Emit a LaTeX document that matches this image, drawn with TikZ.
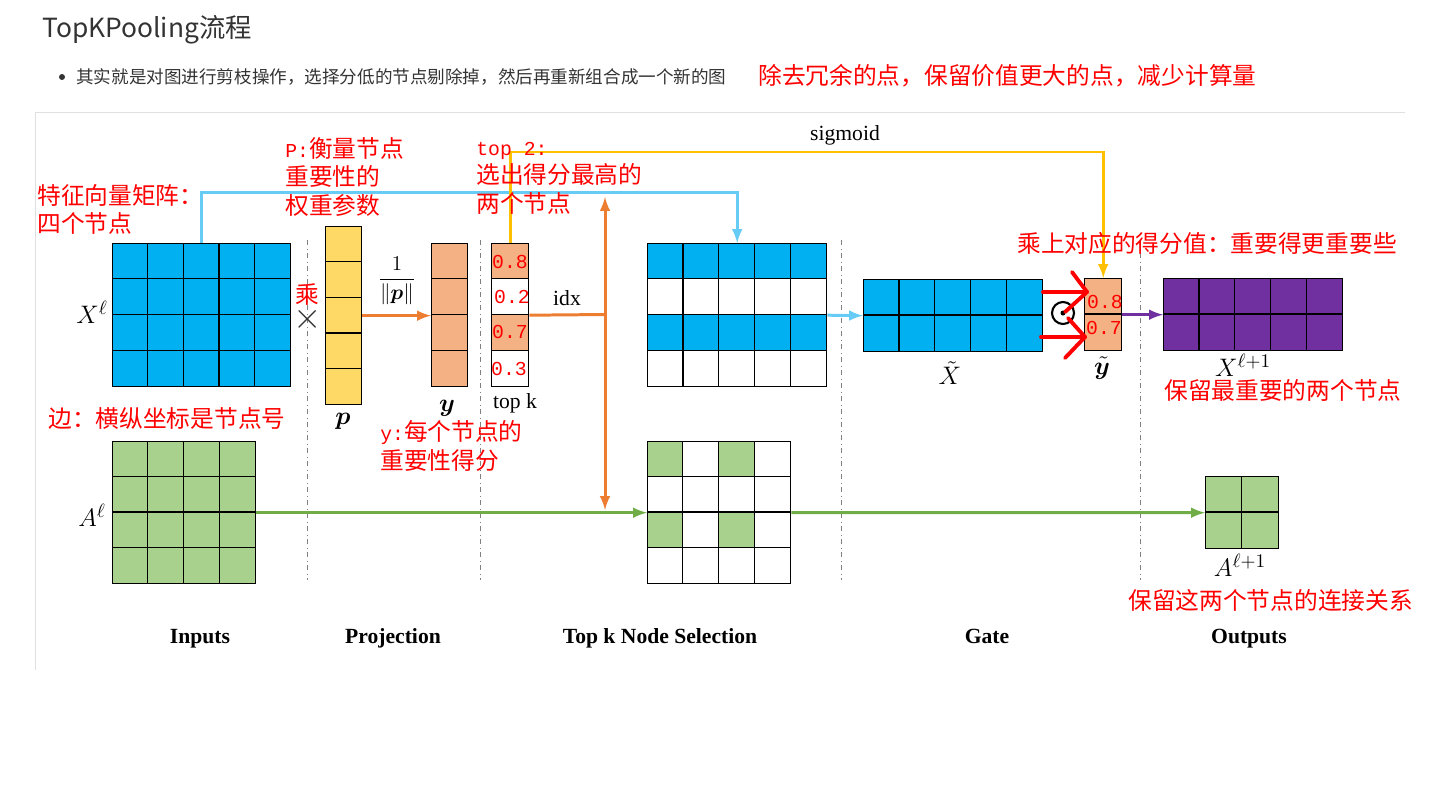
\documentclass[tikz,border=0pt]{standalone}
\usepackage{fontspec}
\usepackage{bm}
\setmainfont{Liberation Serif}
\setmonofont{Liberation Mono}
\newfontfamily\cjkfont{Noto Sans CJK SC}

\definecolor{xblue}{HTML}{00B0F0}
\definecolor{pyellow}{HTML}{FFD966}
\definecolor{yorange}{HTML}{F4B183}
\definecolor{agreen}{HTML}{A9D18E}
\definecolor{outpurple}{HTML}{7030A0}
\definecolor{arrorange}{HTML}{ED7D31}
\definecolor{sigmoidgold}{HTML}{FFC000}
\definecolor{skyblue}{HTML}{66CCF5}
\definecolor{edgegreen}{HTML}{70AD47}
\definecolor{textgray}{HTML}{333333}
\definecolor{framegray}{HTML}{E0E0E0}

\newcommand{\asc}[1]{{\ttfamily\fontsize{11.25}{16.2}\selectfont #1}}

\tikzset{>=latex,
  cell/.style={draw=black, line width=0.8pt, inner sep=0pt, anchor=north west},
  gridline/.style={black, line width=0.8pt},
  sepline/.style={gray, dash dot, line width=0.5pt},
  link/.style={line width=1.7pt},
  note/.style={red, font=\cjkfont\fontsize{13.5}{16.2}\selectfont, align=left, anchor=west, inner sep=0pt},
  num/.style={red, font=\ttfamily\fontsize{11.25}{12}\selectfont, inner sep=0pt},
  lbl/.style={font=\fontsize{12.3}{14}\selectfont, inner sep=0pt},
  mathlbl/.style={font=\fontsize{15}{18}\selectfont, inner sep=0pt},
  stage/.style={font=\bfseries\fontsize{12.3}{14}\selectfont, inner sep=0pt, anchor=base},
  pen/.style={red, line width=2.2pt, line cap=round, line join=round}
}

\begin{document}
\begin{tikzpicture}[x=0.02cm,y=-0.02cm]
\useasboundingbox (0,0) rectangle (1435,785);

% Header
\node[anchor=west, font=\cjkfont\fontsize{15}{18}\selectfont, text=textgray, inner sep=0pt] (title) at (42,30) {TopKPooling流程};
\fill[textgray] (62,77) circle (0.06cm);
\node[anchor=west, font=\cjkfont\fontsize{10}{12}\selectfont, text=textgray, inner sep=0pt] (intro) at (76,77) {其实就是对图进行剪枝操作，选择分低的节点剔除掉，然后再重新组合成一个新的图};
\node[note] (gist) at (758,76) {除去冗余的点，保留价值更大的点，减少计算量};

\draw[framegray] (35,670) -- (35,112) -- (1405,112);

% Separators
\draw[sepline] (307,240) -- (307,580);
\draw[sepline] (480,240) -- (480,580);
\draw[sepline] (841,240) -- (841,580);
\draw[sepline] (1140,240) -- (1140,580);

% Inputs
\node[cell, fill=xblue, minimum width=3.56cm, minimum height=2.86cm] (Xl) at (112,243) {};
\draw[gridline] (147.6,243) -- (147.6,386) (183.2,243) -- (183.2,386) (218.8,243) -- (218.8,386) (254.4,243) -- (254.4,386)
  (112,278.75) -- (290,278.75) (112,314.5) -- (290,314.5) (112,350.25) -- (290,350.25);
\node[mathlbl] (Xlab) at (92,312) {$X^{\ell}$};

\node[cell, fill=agreen, minimum width=2.86cm, minimum height=2.84cm] (Al) at (112,441) {};
\draw[gridline] (147.75,441) -- (147.75,583) (183.5,441) -- (183.5,583) (219.25,441) -- (219.25,583)
  (112,476.5) -- (255,476.5) (112,512) -- (255,512) (112,547.5) -- (255,547.5);
\node[mathlbl] (Alab) at (92,515) {$A^{\ell}$};

% Projection
\node[cell, fill=pyellow, minimum width=0.72cm, minimum height=3.56cm] (p) at (325,226) {};
\draw[gridline] (325,261.6) -- (361,261.6) (325,297.2) -- (361,297.2) (325,332.8) -- (361,332.8) (325,368.4) -- (361,368.4);
\node[mathlbl] (plab) at (343,421) {$\bm{p}$};
\node[font=\fontsize{20}{20}\selectfont, text=textgray, inner sep=0pt] (times) at (308,319) {$\times$};

\node[cell, fill=yorange, minimum width=0.72cm, minimum height=2.86cm] (yv) at (431,243) {};
\draw[gridline] (431,278.75) -- (467,278.75) (431,314.5) -- (467,314.5) (431,350.25) -- (467,350.25);
\node[mathlbl] (ylab) at (447,408) {$\bm{y}$};

\draw[link, arrorange, ->] (p.east) -- (p.east -| yv.west);
\node[font=\fontsize{12}{14}\selectfont, inner sep=0pt] (norm) at (397,281) {$\displaystyle\frac{1}{\|\bm{p}\|}$};

% Top k node selection
\fill[yorange] (491,243) rectangle (528,278.75);
\fill[yorange] (491,314.5) rectangle (528,350.25);
\node[cell, minimum width=0.74cm, minimum height=2.86cm] (topk) at (491,243) {};
\draw[gridline] (491,278.75) -- (528,278.75) (491,314.5) -- (528,314.5) (491,350.25) -- (528,350.25);
\node[num] (s1) at (510,262) {0.8};
\node[num] (s2) at (512,297) {0.2};
\node[num] (s3) at (510,332) {0.7};
\node[num] (s4) at (509,369) {0.3};
\node[lbl] (topklab) at (515,403) {top k};

\coordinate (idx) at (605,314.5);
\coordinate (idxup) at (605,197);
\coordinate (idxdown) at (605,510);
\draw[link, arrorange] (topk.east) -- (idx);
\draw[link, arrorange, ->] (idx) -- (idxup);
\draw[link, arrorange, ->] (idx) -- (idxdown);
\node[lbl] (idxlab) at (567,298) {idx};

\fill[xblue] (647,243) rectangle (826,278.75);
\fill[xblue] (647,314.5) rectangle (826,350.25);
\node[cell, minimum width=3.58cm, minimum height=2.86cm] (Xsel) at (647,243) {};
\draw[gridline] (682.8,243) -- (682.8,386) (718.6,243) -- (718.6,386) (754.4,243) -- (754.4,386) (790.2,243) -- (790.2,386)
  (647,278.75) -- (826,278.75) (647,314.5) -- (826,314.5) (647,350.25) -- (826,350.25);

\fill[agreen] (647,441) rectangle (682.75,476.5);
\fill[agreen] (718.5,441) rectangle (754.25,476.5);
\fill[agreen] (647,512) rectangle (682.75,547.5);
\fill[agreen] (718.5,512) rectangle (754.25,547.5);
\node[cell, minimum width=2.86cm, minimum height=2.84cm] (Asel) at (647,441) {};
\draw[gridline] (682.75,441) -- (682.75,583) (718.5,441) -- (718.5,583) (754.25,441) -- (754.25,583)
  (647,476.5) -- (790,476.5) (647,512) -- (790,512) (647,547.5) -- (790,547.5);

\draw[link, skyblue, ->] (Xl.north) -- ++(0,-51) -| (Xsel.north);
\draw[link, edgegreen, ->] (Al.east) -- (Asel.west);

% Gate
\node[cell, fill=xblue, minimum width=3.58cm, minimum height=1.44cm] (Xt) at (863,279) {};
\draw[gridline] (898.8,279) -- (898.8,351) (934.6,279) -- (934.6,351) (970.4,279) -- (970.4,351) (1006.2,279) -- (1006.2,351)
  (863,315) -- (1042,315);
\node[mathlbl] (Xtlab) at (950,373) {$\tilde{X}$};

\node[cell, fill=yorange, minimum width=0.74cm, minimum height=1.44cm] (yt) at (1084,278) {};
\draw[gridline] (1084,314) -- (1121,314);
\node[num] (t1) at (1105,302) {0.8};
\node[num] (t2) at (1104,328) {0.7};
\node[mathlbl] (ytlab) at (1102,368) {$\tilde{\bm{y}}$};

\draw[line width=1.2pt] (1063,313) circle (0.22cm);
\fill (1063,313) circle (0.05cm);

\draw[link, skyblue, ->] (Xsel.east) -- (Xt.west);
\draw[link, sigmoidgold, ->] (topk.north) -- ++(0,-91) -| (yt.north);
\node[lbl] (sigmoid) at (845,135) {sigmoid};

% Outputs
\node[cell, fill=outpurple, minimum width=3.58cm, minimum height=1.44cm] (Xout) at (1163,278) {};
\draw[gridline] (1198.8,278) -- (1198.8,350) (1234.6,278) -- (1234.6,350) (1270.4,278) -- (1270.4,350) (1306.2,278) -- (1306.2,350)
  (1163,314) -- (1342,314);
\node[mathlbl] (Xoutlab) at (1243,365) {$X^{\ell+1}$};

\node[cell, fill=agreen, minimum width=1.46cm, minimum height=1.44cm] (Aout) at (1205,476) {};
\draw[gridline] (1241.5,476) -- (1241.5,548) (1205,512) -- (1278,512);
\node[mathlbl] (Aoutlab) at (1240,565) {$A^{\ell+1}$};

\draw[link, outpurple, ->] (yt.east) -- (Xout.west);
\draw[link, edgegreen, ->] (Asel.east) -- (Aout.west);

% Stage names
\node[stage] (inputs) at (200,643) {Inputs};
\node[stage] (proj) at (393,643) {Projection};
\node[stage] (select) at (660,643) {Top k Node Selection};
\node[stage] (gate) at (987,643) {Gate};
\node[stage] (outputs) at (1249,643) {Outputs};

% Notes
\node[note] (nX) at (37,209.5) {特征向量矩阵：\\四个节点};
\node[note] (nP) at (285,177) {\asc{P:}衡量节点\\重要性的\\权重参数};
\node[note] (nTop) at (476,178) {\asc{top 2:}\\选出得分最高的\\两个节点};
\node[note] (nA) at (48,418) {边：横纵坐标是节点号};
\node[note] (nY) at (380,446) {\asc{y:}每个节点的\\重要性得分};
\node[note, anchor=center] (nMul) at (307,295) {乘};
\node[note] (nGate) at (1017,243) {乘上对应的得分值：重要得更重要些};
\node[note] (nXout) at (1164,390) {保留最重要的两个节点};
\node[note] (nAout) at (1128,600) {保留这两个节点的连接关系};

\draw[pen] (1043,292) -- (1087,292);
\draw[pen] (1072,272) -- (1087,292) -- (1065,312);
\draw[pen] (1041,337) -- (1085,337);
\draw[pen] (1068,318) -- (1085,337) -- (1065,358);

\end{tikzpicture}
\end{document}
